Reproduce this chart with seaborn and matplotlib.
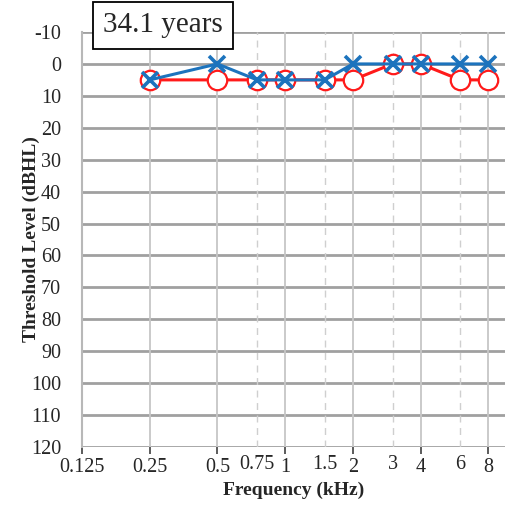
import matplotlib
matplotlib.use("Agg")
import matplotlib.pyplot as plt
import seaborn as sns
import pandas as pd
from matplotlib.ticker import FixedLocator, FixedFormatter

# Audiogram data (thresholds in dB HL)
freqs = [0.25, 0.5, 0.75, 1, 1.5, 2, 3, 4, 6, 8]
right_ear = [5, 5, 5, 5, 5, 5, 0, 0, 5, 5]
left_ear = [5, 0, 5, 5, 5, 0, 0, 0, 0, 0]
octave_ticks = [0.125, 0.25, 0.5, 1, 2, 4, 8]
octave_labels = ["0.125", "0.25", "0.5", "1", "2", "4", "8"]
mid_ticks = [0.75, 1.5, 3, 6]
mid_labels = ["0.75", "1.5", "3", "6"]
level_ticks = list(range(-10, 121, 10))
age_label = "34.1 years"

sns.set_style("white")
plt.rcParams["font.family"] = ["Liberation Serif", "DejaVu Serif"]

df = pd.DataFrame({"freq": freqs, "right": right_ear, "left": left_ear})

fig = plt.figure(figsize=(5.06, 5.08), dpi=100)
ax = fig.add_axes([0.162, 0.120, 0.838, 0.817])

ax.set_xscale("log")
ax.set_xlim(0.125, 9.58)
ax.set_ylim(120, -10)

# Grid: dark horizontal lines, light vertical lines (solid at octaves, dashed between)
for y in level_ticks:
    ax.axhline(y, color="#a0a0a0", lw=2.0, zorder=1)
for f in octave_ticks[1:]:
    ax.axvline(f, color="#c6c6c6", lw=1.3, zorder=1)
for f in mid_ticks:
    ax.axvline(f, color="#cfcfcf", lw=1.0, ls=(0, (5, 4)), zorder=1)

sns.lineplot(data=df, x="freq", y="right", ax=ax, color="#ff1a1a", lw=2.2,
             marker="o", markersize=14, markerfacecolor="white",
             markeredgecolor="#ff1a1a", markeredgewidth=1.6, zorder=3)
sns.lineplot(data=df, x="freq", y="left", ax=ax, color="#1c73bd", lw=2.2,
             marker="x", markersize=12, markeredgewidth=2.6,
             markeredgecolor="#1c73bd", zorder=4)

ax.xaxis.set_major_locator(FixedLocator(octave_ticks))
ax.xaxis.set_major_formatter(FixedFormatter(octave_labels))
ax.xaxis.set_minor_locator(FixedLocator(mid_ticks))
ax.xaxis.set_minor_formatter(FixedFormatter(mid_labels))
ax.tick_params(axis="x", which="major", length=5, width=1.2, color="#404040",
               direction="out", pad=3, labelsize=14.5, bottom=True)
ax.tick_params(axis="x", which="minor", length=0, pad=6, labelsize=14.5, bottom=True)
ax.set_yticks(level_ticks)
ax.set_yticklabels([str(v) for v in level_ticks])
ax.tick_params(axis="y", length=0, pad=15, labelsize=14.5)

for side in ["top", "right", "bottom"]:
    ax.spines[side].set_visible(False)
ax.spines["left"].set_color("#b8b8b8")
ax.spines["left"].set_linewidth(1.5)

ax.set_xlabel("Frequency (kHz)", fontsize=14, fontweight="bold", labelpad=3)
ax.set_ylabel("Threshold Level (dBHL)", fontsize=14, fontweight="bold")
ax.yaxis.set_label_coords(-0.098, 0.5)

fig.text(0.322, 0.950, age_label, fontsize=21, ha="center", va="center",
         bbox=dict(boxstyle="square,pad=0.36", facecolor="white",
                   edgecolor="black", linewidth=1.3), zorder=10)

fig.savefig("out.png", dpi=100)
